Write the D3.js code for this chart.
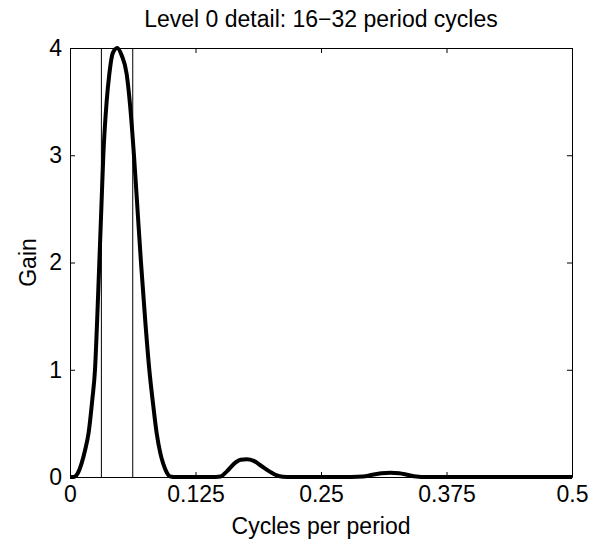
<!DOCTYPE html>
<html>
<head>
<meta charset="utf-8">
<script src="https://cdn.jsdelivr.net/npm/d3@7"></script>
<style>
  body { margin: 0; background: #fff; }
  text { font-family: "Liberation Sans", Arial, sans-serif; fill: #000; }
</style>
</head>
<body>
<div id="chart"></div>
<script>
// data
var freq = [0, 0.003, 0.005, 0.008, 0.0116, 0.015, 0.0185, 0.0222, 0.0249, 0.0272, 0.0292, 0.0312, 0.0332, 0.0365, 0.0392, 0.0425, 0.0471,
    0.0515, 0.0564, 0.0600, 0.0637, 0.0672, 0.0707, 0.0750, 0.0790, 0.0830, 0.0863, 0.0900, 0.0930, 0.0965, 0.0996, 0.103, 0.11,
    0.14, 0.150, 0.156, 0.163, 0.170, 0.176, 0.183, 0.191, 0.199, 0.206, 0.212, 0.22,
    0.28, 0.292, 0.300, 0.310, 0.319, 0.328, 0.337, 0.345, 0.355, 0.4, 0.5];
var gain = [0, 0, 0.005, 0.04, 0.13, 0.25, 0.41, 0.72, 1.0, 1.5, 2.0, 2.5, 3.0, 3.5, 3.76, 3.95, 4.0,
    3.93, 3.76, 3.45, 3.0, 2.5, 2.0, 1.45, 1.0, 0.66, 0.41, 0.22, 0.12, 0.04, 0.005, 0, 0,
    0, 0.005, 0.05, 0.12, 0.16, 0.165, 0.15, 0.1, 0.05, 0.015, 0.003, 0,
    0, 0.004, 0.018, 0.034, 0.04, 0.035, 0.018, 0.005, 0, 0, 0];
var bandEdges = [1 / 32, 1 / 16];
var xTicks = [0, 0.125, 0.25, 0.375, 0.5];
var xTickLabels = ["0", "0.125", "0.25", "0.375", "0.5"];
var yTicks = [0, 1, 2, 3, 4];

var width = 606, height = 554;
var margin = { top: 48, right: 34, bottom: 77, left: 70 };
var fontSize = "23px";

var x = d3.scaleLinear().domain([0, 0.5]).range([margin.left, width - margin.right]);
var y = d3.scaleLinear().domain([0, 4]).range([height - margin.bottom, margin.top]);

var svg = d3.select("#chart").append("svg")
    .attr("width", width)
    .attr("height", height);

svg.append("clipPath").attr("id", "clip")
    .append("rect")
    .attr("x", margin.left).attr("y", margin.top - 2)
    .attr("width", x(0.5) - x(0)).attr("height", y(0) - y(4) + 4);

// band lines
svg.append("g")
    .selectAll("line")
    .data(bandEdges)
    .enter()
    .append("line")
    .attr("x1", d => x(d)).attr("x2", d => x(d))
    .attr("y1", y(0)).attr("y2", y(4))
    .attr("stroke", "#000")
    .attr("stroke-width", 1);

var pts = freq.map((f, i) => [f, gain[i]]);
var line = d3.line()
    .x(d => x(d[0]))
    .y(d => y(d[1]))
    .curve(d3.curveMonotoneX);

svg.append("path")
    .datum(pts)
    .attr("clip-path", "url(#clip)")
    .attr("fill", "none")
    .attr("stroke", "#000")
    .attr("stroke-width", 4)
    .attr("stroke-linejoin", "round")
    .attr("d", line);

// axes, MATLAB style: box with inward ticks
var xAxis = g => g
    .attr("transform", `translate(0,${y(0)})`)
    .call(d3.axisBottom(x).tickValues(xTicks).tickFormat((d, i) => xTickLabels[i]).tickSizeInner(-5).tickSizeOuter(0).tickPadding(9));
var yAxis = g => g
    .attr("transform", `translate(${x(0)},0)`)
    .call(d3.axisLeft(y).tickValues(yTicks).tickFormat(d3.format("d")).tickSizeInner(-5).tickSizeOuter(0).tickPadding(8));
var xTop = g => g
    .attr("transform", `translate(0,${y(4)})`)
    .call(d3.axisTop(x).tickValues(xTicks).tickFormat("").tickSizeInner(-5).tickSizeOuter(0));
var yRight = g => g
    .attr("transform", `translate(${x(0.5)},0)`)
    .call(d3.axisRight(y).tickValues(yTicks).tickFormat("").tickSizeInner(-5).tickSizeOuter(0));

[xAxis, yAxis, xTop, yRight].forEach(a => {
    svg.append("g").call(a)
        .call(g => g.selectAll("text").style("font-size", fontSize).style("font-family", "Liberation Sans, Arial, sans-serif").attr("fill", "#000"))
        .call(g => g.selectAll("line, path").attr("stroke", "#000"));
});

svg.append("text")
    .attr("x", (x(0) + x(0.5)) / 2).attr("y", 27)
    .attr("text-anchor", "middle")
    .style("font-size", fontSize)
    .text("Level 0 detail: 16\u221232 period cycles");

svg.append("text")
    .attr("x", (x(0) + x(0.5)) / 2).attr("y", 534)
    .attr("text-anchor", "middle")
    .style("font-size", fontSize)
    .text("Cycles per period");

svg.append("text")
    .attr("transform", `translate(36,${(y(0) + y(4)) / 2}) rotate(-90)`)
    .attr("text-anchor", "middle")
    .style("font-size", fontSize)
    .text("Gain");
</script>
</body>
</html>
